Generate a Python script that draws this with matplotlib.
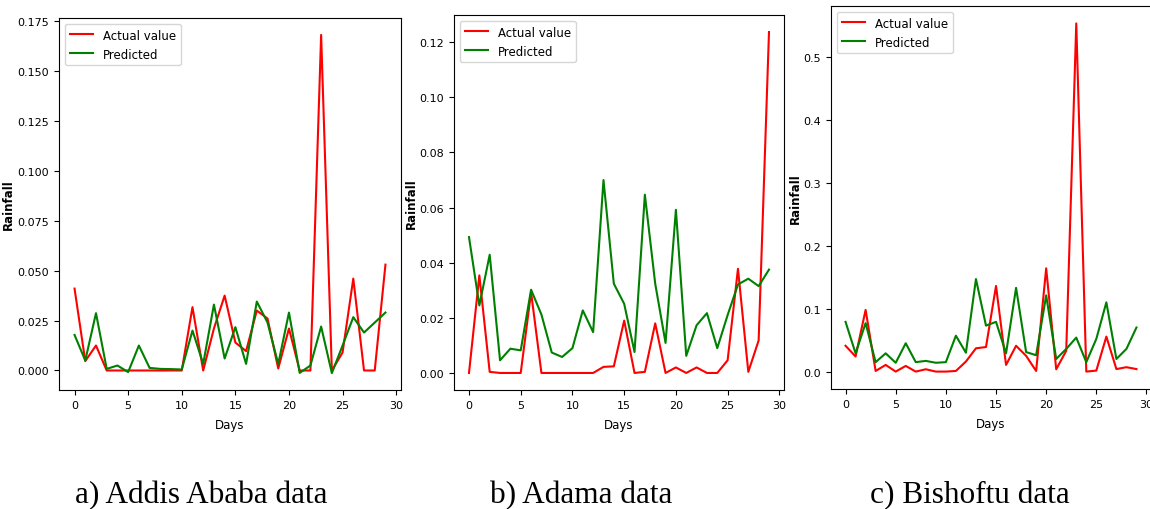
import numpy as np
import matplotlib
matplotlib.use("Agg")
import matplotlib.pyplot as plt

plt.rcParams['font.family'] = ['DejaVu Sans']

days = np.arange(30)

# Addis Ababa
addis_actual = [0.041, 0.0047, 0.0125, 0.0, 0.0, 0.0, 0.0, 0.0, 0.0, 0.0,
                0.0, 0.0317, 0.0, 0.021, 0.0375, 0.014, 0.0097, 0.030, 0.026, 0.001,
                0.021, 0.0, 0.0, 0.168, 0.0, 0.009, 0.046, 0.0, 0.0, 0.053]
addis_pred = [0.0178, 0.005, 0.0287, 0.0008, 0.0025, -0.0008, 0.0125, 0.0013, 0.0008, 0.0007,
              0.0005, 0.020, 0.0033, 0.033, 0.006, 0.0217, 0.0033, 0.0345, 0.024, 0.0033,
              0.029, -0.0012, 0.0025, 0.022, -0.0013, 0.0125, 0.0267, 0.019, 0.024, 0.029]

# Adama
adama_actual = [0.0, 0.0354, 0.0004, 0.0, 0.0, 0.0, 0.0293, 0.0, 0.0, 0.0,
                0.0, 0.0, 0.0, 0.0022, 0.0024, 0.019, 0.0, 0.0004, 0.018, 0.0,
                0.002, 0.0, 0.002, 0.0, 0.0, 0.0046, 0.0378, 0.0004, 0.0118, 0.1237]
adama_pred = [0.0493, 0.0245, 0.0429, 0.0046, 0.0088, 0.0082, 0.0302, 0.0212, 0.0074, 0.0058,
              0.009, 0.0227, 0.0148, 0.070, 0.0324, 0.0251, 0.0076, 0.0647, 0.0324, 0.0109,
              0.0592, 0.0062, 0.0173, 0.0217, 0.009, 0.021, 0.0321, 0.0342, 0.0315, 0.0375]

# Bishoftu
bishoftu_actual = [0.041, 0.024, 0.098, 0.001, 0.0106, 0.0, 0.009, 0.0, 0.0037, 0.0,
                   0.0, 0.001, 0.016, 0.037, 0.039, 0.136, 0.0106, 0.041, 0.025, 0.001,
                   0.164, 0.0037, 0.033, 0.553, 0.0, 0.0016, 0.0556, 0.004, 0.007, 0.004]
bishoftu_pred = [0.079, 0.029, 0.077, 0.015, 0.029, 0.014, 0.045, 0.015, 0.017, 0.014,
                 0.015, 0.057, 0.030, 0.147, 0.073, 0.079, 0.029, 0.133, 0.031, 0.026,
                 0.121, 0.020, 0.036, 0.054, 0.015, 0.052, 0.110, 0.020, 0.036, 0.070]

captions = ["a) Addis Ababa data", "b) Adama data", "c) Bishoftu data"]
caption_x = [201, 581, 970]

fig = plt.figure(figsize=(11.5, 5.1), dpi=100)
W, H = 1150.0, 510.0

# axes boxes in pixels: left, top, right, bottom
boxes = [(59, 19, 401, 391), (454, 16, 784, 391), (831, 7, 1151, 390)]
ylabel_x = [15, 418, 802]
series = [(addis_actual, addis_pred), (adama_actual, adama_pred),
          (bishoftu_actual, bishoftu_pred)]
yticks = [np.arange(0, 0.176, 0.025), np.arange(0, 0.121, 0.02), np.arange(0, 0.51, 0.1)]
yfmt = ["{:.3f}", "{:.2f}", "{:.1f}"]

for (l, t, r, b), lx, (act, pred), yt, fm in zip(boxes, ylabel_x, series, yticks, yfmt):
    ax = fig.add_axes([l / W, 1 - b / H, (r - l) / W, (b - t) / H])
    ax.plot(days, act, color='red', lw=1.5, label='Actual value')
    ax.plot(days, pred, color='green', lw=1.5, label='Predicted')
    ax.set_xticks([0, 5, 10, 15, 20, 25, 30])
    ax.set_yticks(yt)
    ax.set_yticklabels([fm.format(v) for v in yt])
    ax.tick_params(labelsize=8)
    ax.set_xlabel('Days', fontsize=8.5, labelpad=6)
    ax.set_ylabel('Rainfall', fontsize=8.5, fontweight='bold')
    ax.yaxis.set_label_coords((lx - l) / (r - l), 0.5)
    ax.legend(loc='upper left', fontsize=8.5)

for txt, cx in zip(captions, caption_x):
    fig.text(cx / W, 1 - 503 / H, txt, ha='center', va='baseline',
             fontsize=22.5, family='Liberation Serif')

fig.savefig('out.png', dpi=100)
